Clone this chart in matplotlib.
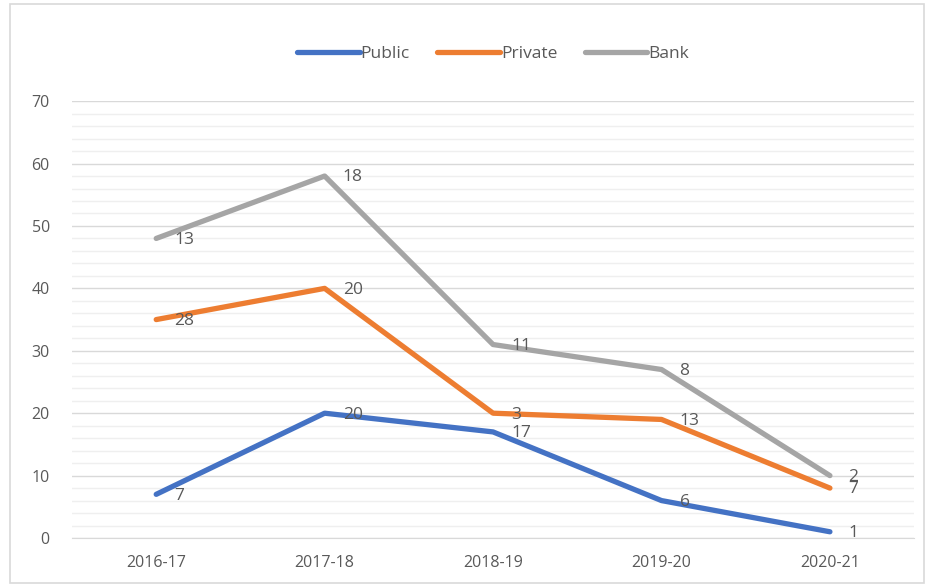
import matplotlib.pyplot as plt
import numpy as np
from matplotlib.patches import Rectangle

years = ['2016-17', '2017-18', '2018-19', '2019-20', '2020-21']
public = [7, 20, 17, 6, 1]
private = [28, 20, 3, 13, 7]
bank = [13, 18, 11, 8, 2]

plt.rcParams['font.family'] = ['Open Sans', 'DejaVu Sans']
txt = '#595959'

fig = plt.figure(figsize=(9.29, 5.88), dpi=100)
ax = fig.add_axes([0.0775, 0.085, 0.9065, 0.743])
fig.patches.append(Rectangle((0.011, 0.008), 0.984, 0.985, transform=fig.transFigure,
                             fill=False, edgecolor='#d9d9d9', linewidth=1.2))

x = np.arange(len(years))
# stacked lines: each series sits on top of the previous one
s1 = np.array(public)
s2 = s1 + np.array(private)
s3 = s2 + np.array(bank)

series = [(s1, public, '#4472C4', 'Public'),
          (s2, private, '#ED7D31', 'Private'),
          (s3, bank, '#A5A5A5', 'Bank')]
for ys, labels, col, name in series:
    ax.plot(x, ys, color=col, linewidth=3.8, label=name, solid_capstyle='round',
            solid_joinstyle='round', zorder=3)
    for xi, yi, lab in zip(x, ys, labels):
        ax.annotate(str(lab), (xi, yi), xytext=(13, -1), textcoords='offset points',
                    va='center', ha='left', fontsize=12.5, color=txt, zorder=4)

ax.set_xlim(-0.5, 4.5)
ax.set_ylim(0, 70)
ax.set_yticks(range(0, 71, 10))
ax.set_yticks(range(0, 71, 2), minor=True)
ax.set_xticks(x)
ax.set_xticklabels(years)
ax.grid(axis='y', which='major', color='#d9d9d9', linewidth=1)
ax.grid(axis='y', which='minor', color='#efefef', linewidth=1)
ax.tick_params(which='both', length=0, colors=txt, labelsize=11.5)
ax.tick_params(axis='x', pad=12)
ax.tick_params(axis='y', pad=16)
for sp in ax.spines.values():
    sp.set_visible(False)
ax.spines['bottom'].set_visible(True)
ax.spines['bottom'].set_color('#d9d9d9')

leg = ax.legend(loc='center', bbox_to_anchor=(0.5, 1.108), ncol=3, frameon=False,
                handlelength=3.6, handletextpad=0.05, columnspacing=1.6, fontsize=12.5)
for t in leg.get_texts():
    t.set_color(txt)

fig.savefig('out.png', dpi=100)
